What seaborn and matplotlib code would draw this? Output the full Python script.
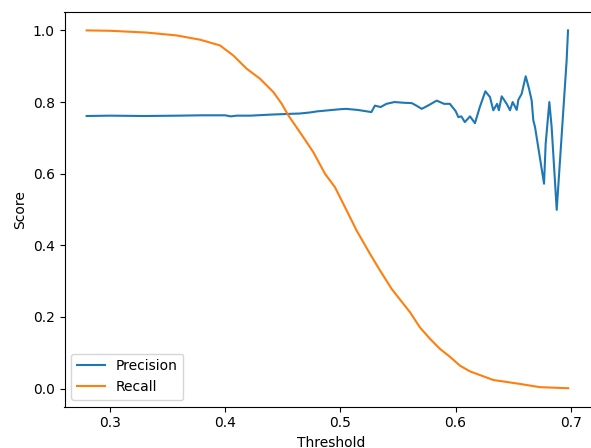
import numpy as np
import pandas as pd
import matplotlib
matplotlib.use("Agg")
import matplotlib.pyplot as plt
import seaborn as sns

# values
prec_thr = [0.280, 0.300, 0.330, 0.360, 0.380, 0.400, 0.405, 0.410, 0.422, 0.440,
            0.456, 0.465, 0.474, 0.480, 0.490, 0.500, 0.505, 0.515, 0.527, 0.530, 0.535,
            0.540, 0.547, 0.555, 0.562, 0.566, 0.5706, 0.576, 0.5836, 0.590, 0.595,
            0.600, 0.6024, 0.605, 0.608, 0.6125, 0.6168, 0.621, 0.6258, 0.6298, 0.6327,
            0.636, 0.6375, 0.640, 0.6443, 0.6472, 0.6495, 0.653, 0.6544, 0.6573, 0.6608,
            0.6637, 0.666, 0.6674, 0.6689, 0.6767, 0.6781, 0.6813, 0.6833, 0.6877, 0.6963,
            0.6975]
precision = [0.761, 0.762, 0.761, 0.762, 0.763, 0.763, 0.760, 0.762, 0.762, 0.765,
             0.767, 0.768, 0.771, 0.774, 0.777, 0.780, 0.781, 0.778, 0.772, 0.790, 0.786,
             0.795, 0.800, 0.798, 0.797, 0.790, 0.781, 0.790, 0.804, 0.795, 0.795,
             0.775, 0.758, 0.760, 0.744, 0.760, 0.741, 0.786, 0.830, 0.814, 0.777,
             0.795, 0.777, 0.816, 0.795, 0.777, 0.800, 0.778, 0.806, 0.823, 0.872,
             0.837, 0.804, 0.749, 0.730, 0.572, 0.683, 0.800, 0.730, 0.499, 0.916,
             1.000]

rec_thr = [0.280, 0.300, 0.332, 0.358, 0.3785, 0.3957, 0.4072, 0.4188, 0.4304, 0.4419,
           0.4492, 0.4549, 0.4679, 0.4766, 0.4867, 0.4954, 0.5026, 0.5142, 0.5258, 0.5344,
           0.5446, 0.5605, 0.569, 0.5778, 0.5864, 0.595, 0.6038, 0.6125, 0.6327, 0.6559,
           0.673, 0.6977]
recall = [1.000, 0.999, 0.994, 0.986, 0.974, 0.958, 0.930, 0.893, 0.865, 0.828,
          0.795, 0.763, 0.702, 0.660, 0.600, 0.562, 0.516, 0.441, 0.376, 0.330,
          0.278, 0.213, 0.171, 0.139, 0.111, 0.089, 0.064, 0.048, 0.024, 0.013,
          0.004, 0.001]

W, H = 591, 448
fig = plt.figure(figsize=(W / 100, H / 100), dpi=100)
# axes placed in pixels; right edge runs past the image like the reference crop
left, right, top, bottom = 64.5, 597, 12.5, 406.5
ax = fig.add_axes([left / W, 1 - bottom / H, (right - left) / W, (bottom - top) / H])

sns.lineplot(x=prec_thr, y=precision, ax=ax, label="Precision", color="#1f77b4")
sns.lineplot(x=rec_thr, y=recall, ax=ax, label="Recall", color="#ff7f0e")

ax.set_xlim(0.2608, 0.2608 + (right - left) / 1153)
ax.set_ylim(-0.05, 1.05)
ax.set_xticks([0.3, 0.4, 0.5, 0.6, 0.7])
ax.set_xlabel("Threshold")
ax.set_ylabel("Score")
ax.legend(loc="lower left")

fig.savefig("out.png", dpi=100)
